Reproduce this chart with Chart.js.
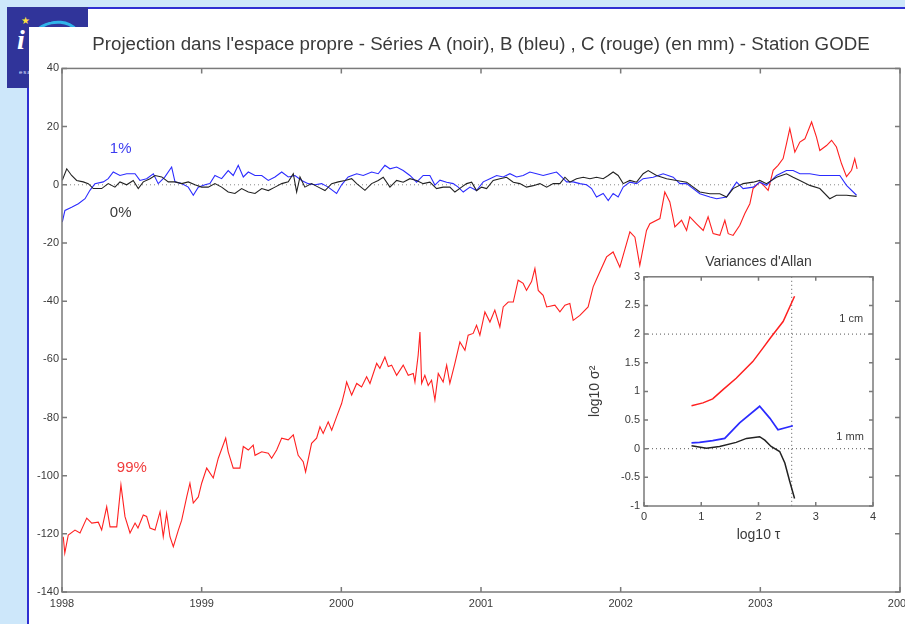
<!DOCTYPE html>
<html>
<head>
<meta charset="utf-8">
<script src="https://cdn.jsdelivr.net/npm/chart.js@4"></script>
<style>
    body { margin: 0; width: 905px; height: 624px; overflow: hidden; background: #cde7fa; font-family: 'Liberation Sans', Arial, sans-serif; }
    #frame { position: absolute; left: 27px; top: 7px; width: 878px; height: 617px; background: #fff; border-left: 2px solid #2f2fd2; border-top: 2px solid #2f2fd2; box-sizing: border-box; }
    #logo { position: absolute; left: 7px; top: 7px; width: 81px; height: 81px; background: #30349a; overflow: hidden; }
    #logo .star { position: absolute; left: 14px; top: 8px; color: #ffe23c; font-size: 10px; }
    #logo .i { position: absolute; left: 10px; top: 17px; color: #fff; font: italic bold 28px 'Liberation Serif', serif; }
    #logo .arc { position: absolute; left: 22px; top: 14px; width: 46px; height: 34px; border: 3px solid #2fb4ea; border-radius: 50%; border-bottom-color: transparent; transform: rotate(-12deg); }
    #logo .sub { position: absolute; left: 12px; top: 62px; color: #dfe3ff; font-size: 6px; letter-spacing: 1px; }
    #plot { position: absolute; left: 29px; top: 27px; width: 876px; height: 597px; background: #fff; }
    #inset { position: absolute; left: 585px; top: 250px; }
</style>
</head>
<body>
<div id="frame"></div>
<div id="logo"><span class="star">★</span><span class="i">i</span><div class="arc"></div><span class="sub">esa</span></div>
<div id="plot"><canvas id="mainChart" width="876" height="597"></canvas></div>
<canvas id="inset" width="305" height="300"></canvas>
<script>
// Série C (rouge), en mm
const redT = [1998.009, 1998.02, 1998.045, 1998.093, 1998.129, 1998.177, 1998.213, 1998.26, 1998.284, 1998.32, 1998.344, 1998.392, 1998.422, 1998.451, 1998.487, 1998.523, 1998.544, 1998.582, 1998.606, 1998.63, 1998.666, 1998.702, 1998.725, 1998.749, 1998.773, 1998.797, 1998.833, 1998.857, 1998.893, 1998.916, 1998.94, 1998.976, 1999.0, 1999.036, 1999.083, 1999.119, 1999.172, 1999.19, 1999.226, 1999.274, 1999.298, 1999.334, 1999.369, 1999.382, 1999.43, 1999.477, 1999.501, 1999.537, 1999.573, 1999.62, 1999.656, 1999.691, 1999.727, 1999.744, 1999.787, 1999.823, 1999.847, 1999.87, 1999.906, 1999.931, 1999.966, 2000.002, 2000.026,
    2000.038, 2000.074, 2000.11, 2000.145, 2000.181, 2000.205, 2000.253, 2000.276, 2000.312, 2000.336, 2000.36, 2000.396, 2000.443, 2000.479, 2000.515, 2000.527, 2000.55, 2000.563, 2000.575, 2000.598, 2000.622, 2000.646, 2000.67, 2000.694, 2000.729, 2000.754, 2000.777, 2000.813, 2000.849, 2000.885, 2000.908, 2000.944, 2000.968, 2000.992, 2001.028, 2001.064, 2001.099, 2001.135, 2001.159, 2001.195, 2001.231, 2001.266, 2001.302, 2001.326, 2001.362, 2001.386, 2001.41, 2001.445, 2001.47, 2001.529, 2001.565, 2001.601, 2001.636, 2001.66, 2001.708, 2001.767, 2001.803, 2001.827, 2001.899, 2001.946, 2001.994, 2002.066, 2002.102, 2002.137, 2002.185, 2002.209, 2002.281, 2002.316, 2002.352, 2002.388, 2002.436, 2002.472, 2002.495, 2002.543, 2002.591, 2002.626, 2002.662, 2002.71, 2002.746, 2002.77, 2002.805, 2002.853, 2002.889, 2002.925, 2002.948, 2002.996, 2003.02, 2003.056, 2003.092, 2003.127, 2003.163, 2003.187, 2003.211, 2003.247, 2003.283, 2003.319, 2003.367, 2003.402, 2003.426, 2003.474, 2003.51, 2003.545, 2003.581, 2003.617, 2003.653, 2003.676, 2003.693];
const redV = [-121, -126.6, -120.4, -118.7, -119.7, -114.6, -116.3, -116, -118.7, -110.7, -117.6, -117.6, -103.2, -114.1, -119.7, -116.3, -118, -113.5, -114, -118, -118.7, -112.4, -121, -113, -121, -124.4, -118.7, -115.3, -107.3, -102.6, -109.4, -107.3, -102.6, -97.4, -100.8, -94, -87.1, -91.8, -97.4, -97.4, -90, -91.2, -89.5, -93, -91.8, -92.3, -94, -91.2, -87.1, -87.7, -86, -93, -95.2, -98.7, -88.9, -87.1, -83.2, -85.5, -81.5, -84.4, -79.8, -75.2, -70.6,
    -67.8, -72.3, -68.3, -69.5, -66, -68.3, -61.4, -63.1, -59.2, -62.5, -62, -65.5, -62, -65.5, -64.9, -67.8, -58.6, -50.6, -68.3, -65.5, -69, -67.2, -74, -64.9, -67.8, -62, -68.3, -61.4, -54, -56.9, -51.7, -51.1, -48.3, -51.7, -43.7, -47.2, -43.1, -48.9, -42, -40.3, -40.3, -32.8, -33.9, -36.3, -33.3, -28.8, -36.3, -38, -42, -41.4, -43.7, -41.4, -40.8, -46.6, -44.9, -42, -35.1, -32.5, -24.8, -23.1, -28.3, -16.2, -18, -27.7, -15.7, -13.4, -11.6, -2.5, -5.9, -14.5, -12.2, -15.7, -11, -13.4, -15.7, -11, -16.8, -17.4, -12.2, -16.8, -17.4, -13.9, -9.9, -6.5, -1.3, 0.9, 0, -1.9, 5, 6.7, 9, 14.1, 19.3, 11.2, 14.7, 15.8, 21.6, 16.4, 11.8, 13.5, 15.3, 13, 7.3, 2.8, 5, 9, 5.5];

// Série B (bleu)
const blueT = [1998.002, 1998.021, 1998.069, 1998.117, 1998.165, 1998.2, 1998.236, 1998.296, 1998.331, 1998.367, 1998.415, 1998.463, 1998.523, 1998.558, 1998.606, 1998.654, 1998.689, 1998.737, 1998.785, 1998.809, 1998.857, 1998.904, 1998.94, 1998.976, 1999.024, 1999.059, 1999.095, 1999.143, 1999.19, 1999.226, 1999.262, 1999.298, 1999.334, 1999.382, 1999.43, 1999.477, 1999.525, 1999.573, 1999.62, 1999.668, 1999.716, 1999.763, 1999.811, 1999.859, 1999.906, 1999.966, 2000.002, 2000.049, 2000.11, 2000.157, 2000.217, 2000.264, 2000.312, 2000.348, 2000.396, 2000.443, 2000.491, 2000.539, 2000.586, 2000.634, 2000.67, 2000.706, 2000.754, 2000.801, 2000.837, 2000.873, 2000.921, 2000.968, 2001.016, 2001.064, 2001.112, 2001.159, 2001.207, 2001.255, 2001.302, 2001.35, 2001.398, 2001.445, 2001.493, 2001.541, 2001.577, 2001.613, 2001.66, 2001.708, 2001.756, 2001.792, 2001.827, 2001.875, 2001.911, 2001.946, 2001.982, 2002.018, 2002.066, 2002.114, 2002.161, 2002.233, 2002.304, 2002.376, 2002.424, 2002.472, 2002.567, 2002.639, 2002.687, 2002.758, 2002.83, 2002.877, 2002.949, 2002.996, 2003.044, 2003.116, 2003.187, 2003.235, 2003.283, 2003.354, 2003.426, 2003.497, 2003.569, 2003.617, 2003.689];
const blueV = [-12.8, -8.8, -7.7, -6.5, -4.8, -1.9, 0.4, 1, 2.1, 4.4, 3.2, 3.8, 3.8, 1.5, 2.1, 3.8, 0.4, 2.7, 6.1, 1, 0.4, -0.8, -3.6, -0.8, 0, 0.4, 3.2, 2.1, 4.9, 3.2, 6.7, 2.7, 4.4, 3.2, 3.2, 1.5, 2.7, 4.4, 2.7, 3.2, 1.5, 0.4, 0, 0.4, -0.8, -3, 0, 2.7, 3.8, 3.2, 4.4, 3.8, 6.7, 5.5, 6.1, 4.9, 3.2, 0.9, 3.2, 3.2, -0.1, 1.6, 0.9, 0.4, -0.8, -2.5, -0.8, -2, 1, 2.1, 3.2, 2.7, 3.8, 2.7, 3.2, 4.4, 3.8, 3.2, 3.8, 4.4, 2.7, 1, 1, 0.4, 0, -1.3, -4.2, -3, -5.4, -3, -4.2, -0.8, 0.9, 0.4, 2.1, 2.6, 3.8, 2.6, 0.4, 0.4, -3.1, -4.2, -4.8, -4.2, 0.9, -1.3, -0.8, 0.9, -0.2, 3.2, 4.9, 4.9, 3.8, 3.8, 3.2, 3.2, 3.2, -0.2, -3.6];

// Série A (noir)
const blackT = [1998.002, 1998.034, 1998.069, 1998.105, 1998.152, 1998.188, 1998.224, 1998.284, 1998.331, 1998.379, 1998.415, 1998.463, 1998.51, 1998.546, 1998.582, 1998.63, 1998.666, 1998.714, 1998.761, 1998.809, 1998.857, 1998.904, 1998.952, 1999.0, 1999.047, 1999.095, 1999.143, 1999.19, 1999.238, 1999.286, 1999.334, 1999.382, 1999.43, 1999.477, 1999.525, 1999.573, 1999.62, 1999.656, 1999.68, 1999.704, 1999.739, 1999.787, 1999.835, 1999.883, 1999.931, 1999.978, 2000.026, 2000.074, 2000.11, 2000.169, 2000.217, 2000.264, 2000.3, 2000.348, 2000.396, 2000.443, 2000.491, 2000.539, 2000.586, 2000.634, 2000.682, 2000.729, 2000.777, 2000.813, 2000.861, 2000.897, 2000.933, 2000.968, 2001.004, 2001.04, 2001.087, 2001.135, 2001.183, 2001.231, 2001.278, 2001.326, 2001.374, 2001.422, 2001.47, 2001.517, 2001.565, 2001.601, 2001.636, 2001.684, 2001.732, 2001.78, 2001.827, 2001.875, 2001.911, 2001.946, 2001.982, 2002.018, 2002.066, 2002.114, 2002.161, 2002.197, 2002.257, 2002.329, 2002.4, 2002.472, 2002.567, 2002.639, 2002.71, 2002.758, 2002.805, 2002.877, 2002.949, 2002.996, 2003.044, 2003.116, 2003.187, 2003.235, 2003.283, 2003.354, 2003.426, 2003.497, 2003.545, 2003.617, 2003.689];
const blackV = [1.5, 5.5, 3.2, 1.5, 1, 0.4, -1.3, -1.3, 0.4, -0.8, 1, 0, 1.5, -1.3, 1, 2.1, 3.2, 2.7, 1, 1, 0.4, 1, 0, -0.8, -0.8, 0.4, -0.8, -2.5, -3, -1.3, -2.5, -3, -1.3, -2, -0.8, 0.4, 1, 3.8, -2.5, 2.7, -0.8, 0.4, -0.8, -2, 0.4, 1, 1.5, 2.1, 0.4, -1.9, 0.4, 1.5, 2.6, -0.8, 1.5, 0.9, 2.1, 1.5, 0.4, 0.9, -1.3, -0.8, -0.8, -2.5, -0.8, 0.4, 0.9, -2, -0.8, -1.3, 1.5, 2.1, 2.6, 0.9, 0.4, -0.8, -0.3, 0.4, -0.8, 0.4, 0.4, 2.6, 0.9, 2.1, 2.6, 2.1, 2.6, 2.1, 3.2, 4.4, 3.2, 0.4, 1.5, 0.9, 3.8, 4.9, 3.2, 2.1, 1.5, 0.9, -2.5, -3.1, -3.1, -4.2, -1.3, 0.4, 0.9, 1.5, 0.4, 2.6, 3.8, 2.6, 1.5, -0.2, -1.3, -4.8, -3.6, -3.6, -4];

const zeroLineT = [1998, 2003.7];

// Pourcentages affichés à côté des courbes (en unités des axes)
const notes = ['1%', '0%', '99%'];
const noteT = [1998.42, 1998.42, 1998.5];
const noteV = [12.5, -9.5, -97.4];
const noteColors = ['#3c3cf0', '#3a3a3a', '#f03c3c'];

// Variances d'Allan (log10 tau, log10 sigma^2)
const allanRedX = [0.83, 1.03, 1.2, 1.38, 1.61, 1.9, 2.08, 2.22, 2.43, 2.63];
const allanRedY = [0.75, 0.8, 0.87, 1.03, 1.23, 1.52, 1.76, 1.95, 2.22, 2.66];
const allanBlueX = [0.83, 0.97, 1.2, 1.41, 1.67, 2.02, 2.2, 2.34, 2.6];
const allanBlueY = [0.1, 0.11, 0.14, 0.18, 0.45, 0.74, 0.53, 0.33, 0.4];
const allanBlackX = [0.83, 1.09, 1.32, 1.61, 1.79, 2.02, 2.11, 2.22, 2.37, 2.46, 2.54, 2.63];
const allanBlackY = [0.05, 0.01, 0.04, 0.11, 0.18, 0.21, 0.15, 0.04, -0.05, -0.25, -0.55, -0.87];
const allanHLines = [0, 2];
const allanVLines = [2.58];
const allanNotes = ['1 cm', '1 mm'];
const allanNoteX = [3.62, 3.6];
const allanNoteY = [2.27, 0.21];

const pts = (xs, ys) => xs.map((x, i) => ({ x: x, y: ys[i] }));

const axisColor = '#7a7a7a';
const textColor = '#3a3a3a';
const fontFamily = "'Liberation Sans', Arial, sans-serif";

// cadre + graduations vers l'intérieur (style matlab)
const boxTicks = {
    id: 'boxTicks',
    afterDraw(chart, args, opts) {
        const { ctx, chartArea: a, scales: { x, y } } = chart;
        ctx.save();
        ctx.strokeStyle = axisColor;
        ctx.lineWidth = 1.5;
        ctx.strokeRect(a.left, a.top, a.right - a.left, a.bottom - a.top);
        ctx.beginPath();
        x.ticks.forEach(t => {
            const px = x.getPixelForValue(t.value);
            ctx.moveTo(px, a.bottom); ctx.lineTo(px, a.bottom - opts.len);
            ctx.moveTo(px, a.top); ctx.lineTo(px, a.top + opts.len);
        });
        y.ticks.forEach(t => {
            const py = y.getPixelForValue(t.value);
            ctx.moveTo(a.left, py); ctx.lineTo(a.left + opts.len, py);
            ctx.moveTo(a.right, py); ctx.lineTo(a.right - opts.len, py);
        });
        ctx.stroke();
        ctx.restore();
    }
};

// textes placés en coordonnées de données
const dataNotes = {
    id: 'dataNotes',
    afterDatasetsDraw(chart, args, opts) {
        const { ctx, scales: { x, y } } = chart;
        ctx.save();
        ctx.font = opts.size + 'px ' + fontFamily;
        ctx.textAlign = 'center';
        ctx.textBaseline = 'middle';
        opts.texts.forEach((txt, i) => {
            ctx.fillStyle = opts.colors[i];
            ctx.fillText(txt, x.getPixelForValue(opts.xs[i]), y.getPixelForValue(opts.ys[i]));
        });
        ctx.restore();
    }
};

// lignes pointillées de référence du petit graphique
const refLines = {
    id: 'refLines',
    beforeDatasetsDraw(chart, args, opts) {
        const { ctx, chartArea: a, scales: { x, y } } = chart;
        ctx.save();
        ctx.strokeStyle = '#555';
        ctx.lineWidth = 1;
        ctx.setLineDash([1, 3]);
        ctx.beginPath();
        opts.h.forEach(v => { const py = y.getPixelForValue(v); ctx.moveTo(a.left, py); ctx.lineTo(a.right, py); });
        opts.v.forEach(v => { const px = x.getPixelForValue(v); ctx.moveTo(px, a.top); ctx.lineTo(px, a.bottom); });
        ctx.stroke();
        ctx.restore();
    }
};

const whiteArea = {
    id: 'whiteArea',
    beforeDraw(chart) {
        const { ctx, chartArea: a } = chart;
        ctx.save();
        ctx.fillStyle = '#fff';
        ctx.fillRect(a.left, a.top, a.right - a.left, a.bottom - a.top);
        ctx.restore();
    }
};

function lineSet(data, color, width) {
    return { data: data, borderColor: color, borderWidth: width, pointRadius: 0, tension: 0, fill: false };
}

new Chart(document.getElementById('mainChart'), {
    type: 'line',
    data: {
        datasets: [
            lineSet(pts(blackT, blackV), '#222', 1.1),
            lineSet(pts(blueT, blueV), '#2b2bff', 1.1),
            lineSet(pts(redT, redV), '#ff2020', 1.1),
            { ...lineSet(zeroLineT.map(t => ({ x: t, y: 0 })), '#888', 1), borderDash: [1, 3] }
        ]
    },
    options: {
        responsive: false,
        animation: false,
        layout: { padding: { left: 0, right: 5, top: 0, bottom: 0 } },
        plugins: {
            legend: { display: false },
            tooltip: { enabled: false },
            title: {
                display: true,
                fullSize: false,
                text: "Projection dans l'espace propre - Séries A (noir), B (bleu) , C (rouge) (en mm) - Station GODE",
                color: textColor,
                font: { size: 18.7, family: fontFamily, weight: 'normal' },
                padding: { top: 7, bottom: 12 }
            },
            boxTicks: { len: 5 },
            dataNotes: { texts: notes, xs: noteT, ys: noteV, colors: noteColors, size: 15 }
        },
        scales: {
            x: {
                type: 'linear', min: 1998, max: 2004,
                grid: { display: false, drawTicks: false },
                border: { display: false },
                ticks: { stepSize: 1, color: textColor, font: { size: 11, family: fontFamily }, padding: 5, maxRotation: 0, callback: v => String(v) },
                afterFit(s) { s.height = 32; s.paddingLeft = 0; s.paddingRight = 0; }
            },
            y: {
                min: -140, max: 40,
                grid: { display: false, drawTicks: false },
                border: { display: false },
                ticks: { stepSize: 20, color: textColor, font: { size: 11, family: fontFamily }, padding: 3 },
                afterFit(s) { s.width = 33; }
            }
        }
    },
    plugins: [boxTicks, dataNotes]
});

new Chart(document.getElementById('inset'), {
    type: 'line',
    data: {
        datasets: [
            lineSet(pts(allanBlackX, allanBlackY), '#222', 1.5),
            lineSet(pts(allanBlueX, allanBlueY), '#2b2bff', 1.7),
            lineSet(pts(allanRedX, allanRedY), '#ff2020', 1.5)
        ]
    },
    options: {
        responsive: false,
        animation: false,
        layout: { padding: { left: 0, right: 17, top: 0, bottom: 0 } },
        plugins: {
            legend: { display: false },
            tooltip: { enabled: false },
            title: {
                display: true,
                fullSize: false,
                text: "Variances d'Allan",
                color: textColor,
                font: { size: 14, family: fontFamily, weight: 'normal' },
                padding: { top: 4, bottom: 6 }
            },
            boxTicks: { len: 4 },
            refLines: { h: allanHLines, v: allanVLines },
            dataNotes: { texts: allanNotes, xs: allanNoteX, ys: allanNoteY, colors: [textColor, textColor], size: 11 }
        },
        scales: {
            x: {
                type: 'linear', min: 0, max: 4,
                grid: { display: false, drawTicks: false },
                border: { display: false },
                ticks: { stepSize: 1, color: textColor, font: { size: 11, family: fontFamily }, padding: 4, maxRotation: 0, callback: v => String(v) },
                title: { display: true, text: 'log10 τ', color: textColor, font: { size: 14, family: fontFamily }, padding: { top: 0, bottom: 6 } },
                afterFit(s) { s.height = 44; s.paddingLeft = 0; s.paddingRight = 0; }
            },
            y: {
                min: -1, max: 3,
                grid: { display: false, drawTicks: false },
                border: { display: false },
                ticks: { stepSize: 0.5, color: textColor, font: { size: 11, family: fontFamily }, padding: 4, callback: v => String(v) },
                title: { display: true, text: 'log10 σ²', color: textColor, font: { size: 14, family: fontFamily }, padding: { top: 2, bottom: 0 } },
                afterFit(s) { s.width = 59; }
            }
        }
    },
    plugins: [whiteArea, refLines, boxTicks, dataNotes]
});
</script>
</body>
</html>
